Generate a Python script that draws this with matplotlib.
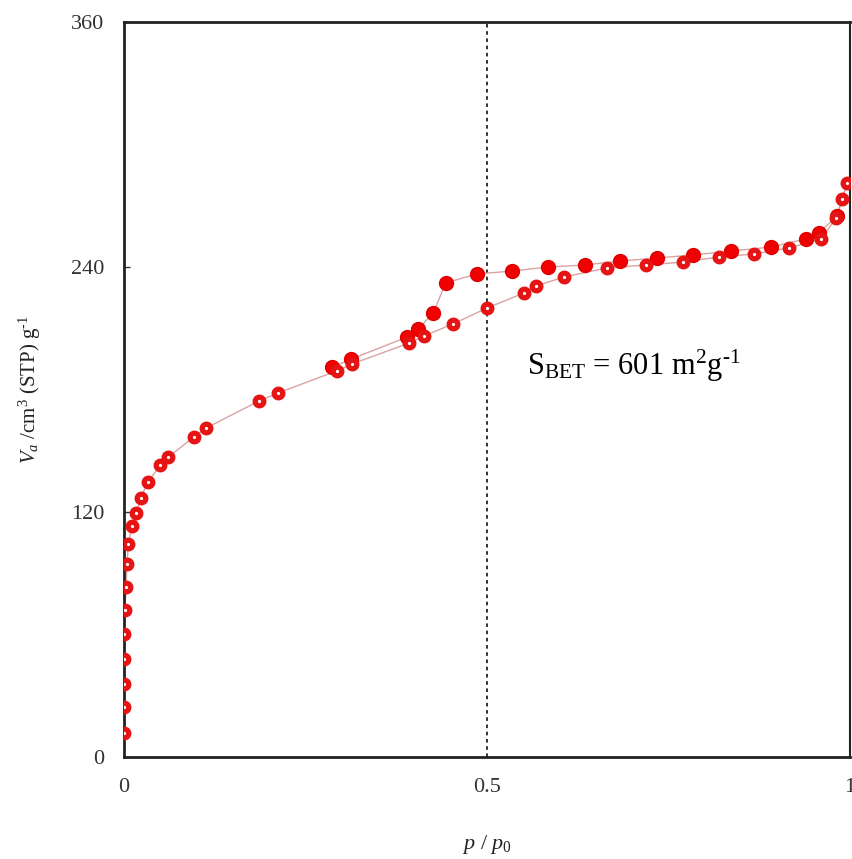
import matplotlib
matplotlib.use("Agg")
import matplotlib.pyplot as plt

plt.rcParams['font.family'] = ['Liberation Serif', 'DejaVu Serif']
plt.rcParams['mathtext.fontset'] = 'custom'
plt.rcParams['mathtext.rm'] = 'Liberation Serif'
plt.rcParams['mathtext.it'] = 'Liberation Serif:italic'

# adsorcion (circulos abiertos)
p_ads = [0.000, 0.000, 0.000, 0.000, 0.000, 0.001, 0.003, 0.004, 0.006, 0.011,
         0.017, 0.023, 0.033, 0.050, 0.061, 0.096, 0.113, 0.186, 0.212, 0.293,
         0.314, 0.393, 0.413, 0.453, 0.500, 0.551, 0.567, 0.606, 0.665, 0.719,
         0.770, 0.820, 0.868, 0.916, 0.960, 0.981, 0.989, 0.996]
v_ads = [11.8, 24.5, 35.8, 48.0, 60.2, 72.0, 83.3, 94.5, 104.3, 113.2,
         119.5, 126.9, 134.7, 143.0, 146.9, 156.7, 161.1, 174.4, 178.3, 189.1,
         192.5, 202.8, 206.2, 212.1, 219.9, 227.3, 230.7, 235.1, 239.5, 241.0,
         242.4, 244.9, 246.4, 249.3, 253.7, 264.0, 273.3, 281.1]

# desorcion (circulos llenos)
p_des = [0.996, 0.982, 0.957, 0.939, 0.891, 0.836, 0.784, 0.734, 0.683, 0.635,
         0.584, 0.534, 0.486, 0.443, 0.426, 0.405, 0.390, 0.313, 0.287]
v_des = [281.1, 265.0, 256.6, 253.7, 249.8, 247.8, 245.9, 244.4, 242.9, 241.0,
         240.0, 238.0, 236.6, 232.2, 217.5, 209.6, 205.7, 194.9, 191.0]

fig = plt.figure(figsize=(8.53, 8.59), dpi=100)
ax = fig.add_axes([0.1454, 0.1187, 0.8511, 0.8557])

line_col = '#d9a3a3'
ax.plot(p_ads, v_ads, '-', color=line_col, lw=1.0, zorder=2)
ax.plot(p_des, v_des, '-', color=line_col, lw=1.0, zorder=2)
ax.plot(p_des[1:], v_des[1:], 'o', ls='none', ms=10, mfc='#f00000', mec='#e00000',
        mew=1.0, zorder=3)
ax.plot(p_ads, v_ads, 'o', ls='none', ms=6.2, mfc='white', mec='#e51515',
        mew=3.8, zorder=4)

ax.axvline(0.5, color='#222222', ls=(0, (2, 2)), lw=1.3, zorder=1)

ax.text(0.555, 187, r'S$_{\rm BET}$ = 601 m$^2$g$^{\text{-1}}$', fontsize=22, color='black')

ax.set_xlim(0, 1)
ax.set_ylim(0, 360)
ax.set_xticks([0, 0.5, 1])
ax.set_xticklabels(['0', '0.5', '1'])
ax.set_yticks([0, 120, 240, 360])
ax.tick_params(direction='in', length=4, width=1, colors='#333333', labelsize=16,
               pad=14)
ax.tick_params(axis='x', length=0, pad=15)

for s in ['left', 'bottom', 'top']:
    ax.spines[s].set_linewidth(2.0)
    ax.spines[s].set_color('#222222')
ax.spines['right'].set_linewidth(1.5)
ax.spines['right'].set_color('#222222')

ax.set_xlabel(r'$p$ / $p_0$', fontsize=16, labelpad=26, color='#222222')
ax.set_ylabel(r'$V_a$ /cm$^3$ (STP) g$^{\text{-1}}$', fontsize=15, labelpad=20,
              color='#222222')

fig.savefig('out.png', dpi=100)
